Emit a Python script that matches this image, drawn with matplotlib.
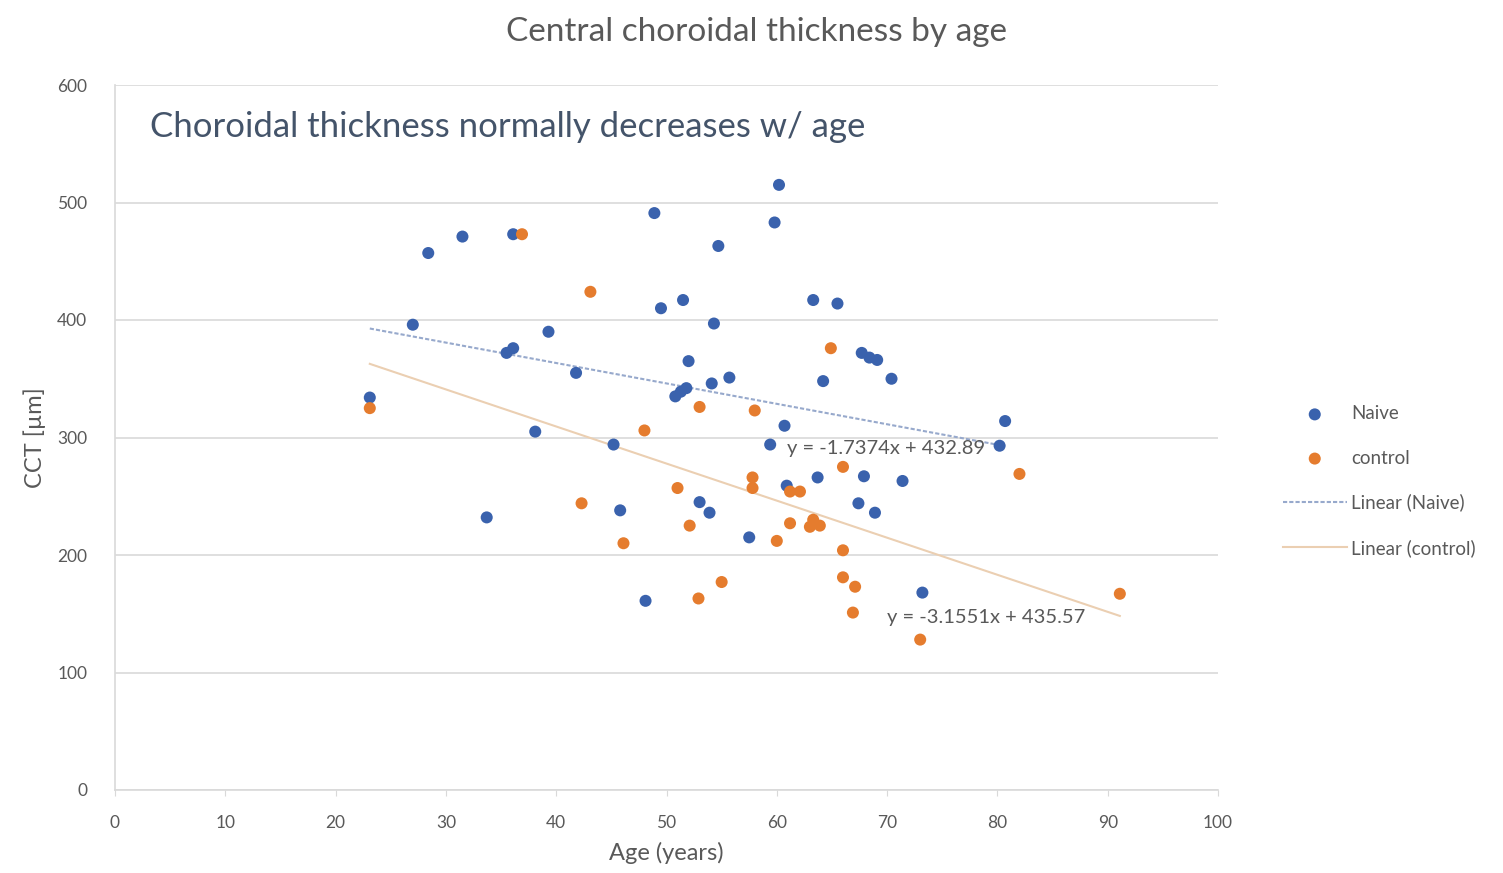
import matplotlib
matplotlib.use("Agg")
import matplotlib.pyplot as plt
import numpy as np

# ---- data ----
naive_age = [23.1, 27.0, 28.4, 31.5, 33.7, 35.5, 36.1, 36.1, 38.1, 39.3, 41.8, 45.2, 45.8,
             48.1, 48.9, 49.5, 50.8, 51.3, 51.8, 51.5, 52.0, 53.0, 53.9, 54.1, 54.3, 54.7,
             55.7, 57.5, 59.4, 59.8, 60.2, 60.7, 60.9, 63.3, 63.7, 64.2, 65.5, 67.4, 67.7,
             68.4, 69.1, 67.9, 68.9, 70.4, 71.4, 73.2, 80.2, 80.7]
naive_cct = [334, 396, 457, 471, 232, 372, 376, 473, 305, 390, 355, 294, 238,
             161, 491, 410, 335, 339, 342, 417, 365, 245, 236, 346, 397, 463,
             351, 215, 294, 483, 515, 310, 259, 417, 266, 348, 414, 244, 372,
             368, 366, 267, 236, 350, 263, 168, 293, 314]

control_age = [23.1, 36.9, 42.3, 43.1, 46.1, 48.0, 51.0, 52.1, 52.9, 53.0, 55.0, 57.8, 57.8,
               58.0, 60.0, 61.2, 62.1, 61.2, 63.0, 63.3, 63.9, 64.9, 66.0, 66.0, 66.0, 67.1,
               66.9, 73.0, 82.0, 91.1]
control_cct = [325, 473, 244, 424, 210, 306, 257, 225, 163, 326, 177, 266, 257,
               323, 212, 254, 254, 227, 224, 230, 225, 376, 275, 204, 181, 173,
               151, 128, 269, 167]

# trend line coefficients (as shown on chart)
naive_slope, naive_intercept = -1.7374, 432.89
control_slope, control_intercept = -3.1551, 435.57

x_ticks = list(range(0, 101, 10))
y_ticks = list(range(0, 601, 100))

plt.rcParams['font.family'] = ['Lato', 'DejaVu Sans']

fig = plt.figure(figsize=(15.03, 8.73), dpi=100)
ax = fig.add_axes([115/1503, 1 - 790/873, (1218-115)/1503, (790-85)/873])

blue = '#3a62ad'
orange = '#e57c2e'
ax.scatter(naive_age, naive_cct, s=75, color=blue, label='Naive', zorder=3, edgecolors='none')
ax.scatter(control_age, control_cct, s=75, color=orange, label='control', zorder=3, edgecolors='none')

xb = np.array([min(naive_age), max(naive_age)])
ax.plot(xb, naive_slope*xb + naive_intercept, color='#97a9cc', lw=1.5, ls=(0, (2, 1)),
        label='Linear (Naive)', zorder=2)
xo = np.array([min(control_age), max(control_age)])
ax.plot(xo, control_slope*xo + control_intercept, color='#ebcfb2', lw=1.5,
        label='Linear (control)', zorder=2)

ax.text(60.9, 291, 'y = -1.7374x + 432.89',
        fontsize=14.5, color='#595959', va='center', ha='left', zorder=4)
ax.text(70, 147, 'y = -3.1551x + 435.57', fontsize=14.5, color='#595959',
        va='center', ha='left', zorder=4)

ax.set_xlim(0, 100)
ax.set_ylim(0, 600)
ax.set_xticks(x_ticks)
ax.set_yticks(y_ticks)
ax.tick_params(axis='both', labelsize=12.5, labelcolor='#595959', color='#d9d9d9', length=4)
ax.tick_params(axis='y', length=0, pad=20)
ax.tick_params(axis='x', pad=14)
ax.grid(axis='y', color='#d9d9d9', lw=1.2)
ax.set_axisbelow(True)
for s in ['top', 'right']:
    ax.spines[s].set_visible(False)
for s in ['left', 'bottom']:
    ax.spines[s].set_color('#d9d9d9')
    ax.spines[s].set_linewidth(1.2)

ax.set_xlabel('Age (years)', fontsize=17, color='#595959', labelpad=8)
ax.set_ylabel('CCT [µm]', fontsize=17, color='#595959', labelpad=8)

fig.text(757/1503, 1 - 32/873, 'Central choroidal thickness by age', fontsize=24,
         color='#595959', ha='center', va='center')
ax.text(3.2, 564, 'Choroidal thickness normally decreases w/ age', fontsize=25,
        color='#44546a', ha='left', va='center')

leg = fig.legend(loc='center left', bbox_to_anchor=(1266/1503, 1 - 481/873), frameon=False,
                 fontsize=13.5, labelcolor='#595959', handlelength=3.4, labelspacing=1.45,
                 handletextpad=0.25, markerscale=1.0)

fig.savefig('out.png', dpi=100)
